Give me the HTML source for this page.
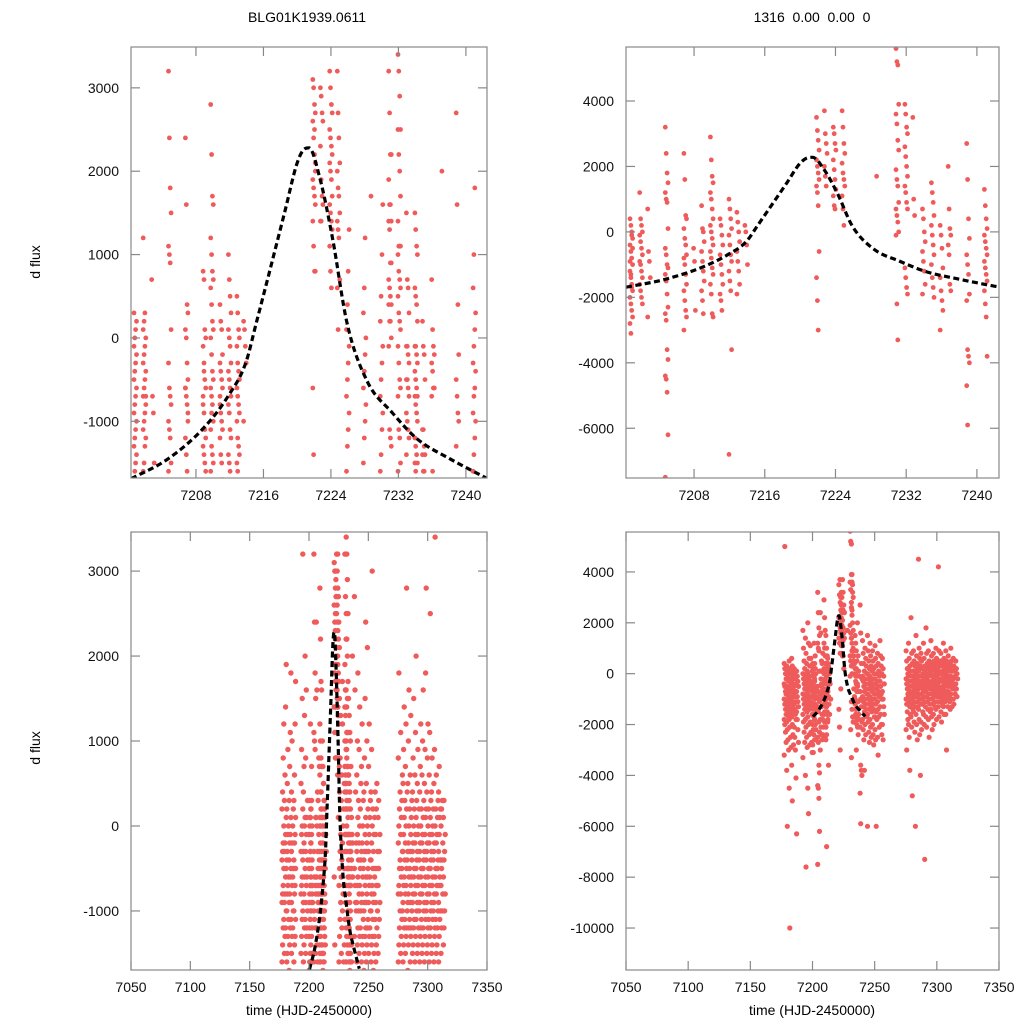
<!DOCTYPE html>
<html><head><meta charset="utf-8">
<style>
html,body{margin:0;padding:0;background:#fff;}
svg{display:block;font-family:"Liberation Sans",Arial,sans-serif;}
</style></head>
<body>
<svg id="chart" width="1024" height="1024" viewBox="0 0 1024 1024" xmlns="http://www.w3.org/2000/svg">
<rect x="0" y="0" width="1024" height="1024" fill="#fff"/>
<text x="307" y="22" font-size="14" text-anchor="middle">BLG01K1939.0611</text>
<text x="812" y="22" font-size="14" text-anchor="middle" xml:space="preserve">1316  0.00  0.00  0</text>
<text transform="translate(40,262) rotate(-90)" font-size="14" text-anchor="middle">d flux</text>
<text transform="translate(40,748) rotate(-90)" font-size="14" text-anchor="middle">d flux</text>
<text x="309" y="1015" font-size="14" text-anchor="middle">time (HJD-2450000)</text>
<text x="812" y="1015" font-size="14" text-anchor="middle">time (HJD-2450000)</text>
</svg>
<script>
// ---- data (fluxes in units of 100) ----
const leftTimes = [7178,7180,7182,7184,7186,7188,7194,7196,7198,
 7200.8,7201.9,7202.9,7204.9,7206.9,7209.0,7209.9,7211.0,7212.0,7213.0,7213.8,
 7222.0,7222.9,7224.0,7224.9,7226,7228,7228.9,7230,7231.0,7232.1,7233.1,7234.1,7235.0,7236.1,7237.3,7239.0,
 7241,7243,7245,7247,7249,7251,7253,7255,7257,7259,
 7276,7278,7280,7282,7284,7286,7288,7290,7292,7294,7296,7298,7300,7302,7304,7306,7308,7310,7312,7314];
const leftFlux = [
 [-16,-14,-12,-11,-9,-8,-7,-5,-4,-3,-2,0,2,4,8,12],
 [-15,-13,-12,-10,-9,-8,-6,-5,-3,-2,-1,1,3,6,14,19],
 [-16,-15,-13,-11,-10,-8,-7,-6,-4,-3,-1,0,2,5,9],
 [-17,-14,-12,-11,-9,-8,-6,-5,-4,-2,-1,1,3,7,11,18],
 [-15,-13,-12,-10,-9,-7,-6,-5,-3,-2,0,2,4,10],
 [-16,-14,-13,-11,-10,-8,-7,-5,-4,-2,-1,1,3,6,12,17],
 [-15,-13,-11,-10,-8,-7,-6,-4,-3,-1,0,2,5,9,15,32],
 [-16,-14,-12,-11,-9,-8,-6,-5,-3,-2,0,1,4,7,13,20],
 [-15,-13,-12,-10,-9,-7,-6,-4,-3,-1,1,3,8,16],
 [-17,-16,-15,-14,-13,-12,-11,-10,-9,-8,-7,-6,-5,-4,-3,-2,-1,0,1,2,3],
 [-16,-15,-13,-12,-11,-10,-9,-8,-7,-6,-5,-4,-3,-2,-1,0,1,2,3,-7,12],
 [7,-7,-9,-15],
 [32,24,18,15,11,10,9,1,-3,-6,-7,-8,-10,-11,-12,-15,-16],
 [24,16,4,3,1,0,-3,-5,-6,-7,-8,-10,-12,-14,-16,-9,-6],
 [8,7,1,0,-1,-4,-5,-6,-8,-9,-11,-12,-13,-14,-15,-16,-7,-3],
 [28,22,17,16,12,10,8,7,6,4,2,1,0,-2,-4,-5,-6,-7,-8,-10,-11,-13,-14,-15,-16,-9],
 [4,2,1,-2,-3,-4,-5,-6,-8,-9,-10,-11,-12,-14,-15,-17,-7],
 [10,7,5,3,1,0,-1,-3,-4,-5,-6,-7,-8,-9,-11,-12,-14,-15,-16],
 [5,3,1,0,-1,-3,-4,-5,-6,-7,-8,-9,-10,-12,-13,-14,-15,-16],
 [2,1,-1,-3,-10],
 [31,30,28,27,26,24,22,20,19,18,17,16,14,11,8,8,-6,-14,25,21],
 [30,29,27,26,23,19,17,16,14,14],
 [32,30,28,27,25,24,23,22,21,20,19,17,16,15,14,13,11,8,6],
 [32,27,24,21,20,18,17,15,14,13,12,7,6,1],
 [-16,-13,-11,-9,-7,-5,-3,-1,1,4,8,13],
 [-15,-12,-10,-8,-6,-4,-2,0,3,6,12],
 [17],
 [-16,-14,-11,-9,-7,-5,-3,-1,2,5,10,16],
 [32,27,22,22,19,16,16,14,14,13,9,9,7,6,5,4,4,2,2,0,-1,-11,-12,-13],
 [34,32,29,25,25,22,20,17,14,11,11,11,10,8,7,6,5,3,2,1,-1,-3,-5,-6,-7,-11,-12,-15,-16],
 [15,7,6,3,-1,-1,-2,-3,-5,-5,-6,-7,-9,-10,-11,-12,-14],
 [15,13,11,10,6,5,4,2,-1,-1,-2,-3,-4,-5,-6,-7,-7,-8,-9,-10,-12,-13,-14,-15,-15,-16,-17],
 [2,-1,-2,-5,-11,-11,-13,-14,-14,-16,-16],
 [7,1,-1,-2,-3,-4,-6,-6,-7,-16],
 [20],
 [27,16,4,-2,-5,-7,-9,-10,-13],
 [-16,-14,-12,-10,-9,-7,-6,-4,-3,-1,1,3,6,10,18],
 [-15,-13,-12,-10,-8,-7,-5,-4,-2,0,2,5,9,14],
 [-16,-14,-13,-11,-9,-8,-6,-5,-3,-2,0,3,7,12],
 [-17,-15,-13,-12,-10,-9,-7,-6,-4,-3,-1,1,4,8,15,24],
 [-16,-14,-12,-11,-9,-8,-6,-5,-3,-2,0,2,5,10,21],
 [-15,-13,-12,-10,-9,-7,-6,-4,-3,-1,1,3,7,12],
 [-16,-14,-13,-11,-10,-8,-7,-5,-4,-2,0,2,4,9,30],
 [-17,-15,-13,-11,-9,-8,-6,-5,-3,-1,1,4],
 [-16,-14,-12,-10,-9,-7,-5,-3,-1,2,5],
 [-15,-13,-11,-9,-7,-5,-3,-1,1,3],
 [-16,-14,-12,-10,-8,-7,-5,-4,-2,0,2,4,8,18],
 [-15,-13,-11,-10,-8,-6,-5,-3,-1,1,3,6,11],
 [-16,-14,-12,-11,-9,-7,-6,-4,-3,-1,1,3,5,9,14],
 [-15,-13,-12,-10,-8,-7,-5,-4,-2,0,2,4,7,12,28],
 [-17,-14,-12,-11,-9,-8,-6,-5,-3,-2,0,2,5,10,16],
 [-16,-13,-12,-10,-9,-7,-6,-4,-3,-1,1,3,6,13],
 [-15,-14,-12,-11,-9,-8,-6,-5,-3,-2,0,2,4,8,15],
 [-16,-13,-11,-10,-8,-7,-5,-4,-2,-1,1,3,6,11,20],
 [-15,-14,-12,-10,-9,-7,-6,-4,-3,-1,0,2,5,9],
 [-16,-13,-12,-11,-9,-8,-6,-5,-3,-2,0,2,4,7,12],
 [-15,-14,-12,-10,-8,-7,-5,-4,-2,-1,1,3,6,10,16],
 [-16,-13,-11,-10,-9,-7,-6,-4,-3,-1,1,2,5,9,18,28],
 [-15,-14,-12,-11,-9,-8,-6,-5,-3,-2,0,2,4,8,12],
 [-16,-13,-12,-10,-8,-7,-5,-4,-2,-1,1,3,6,11,25],
 [-15,-14,-11,-10,-9,-7,-6,-4,-3,-1,0,2,4,8],
 [-16,-13,-12,-11,-9,-8,-6,-5,-3,-2,0,2,5,9,34],
 [-15,-14,-12,-10,-8,-7,-5,-4,-2,-1,1,3,6],
 [-16,-13,-11,-10,-9,-7,-6,-4,-3,-1,1,2,4,7],
 [-15,-12,-10,-8,-7,-5,-4,-2,0,2,3],
 [-14,-12,-10,-8,-6,-4,-3,-1,1,3]
];
const rightTimes = [7178,7180,7182,7184,7186,7188,7193,7195,7197,7199,
 7200.9,7202.0,7202.9,7204.9,7207.0,7208.1,7209.0,7210.0,7211.1,7212.1,7213.0,7213.9,
 7222.0,7222.9,7223.9,7224.9,7228.8,7231.0,7232.0,7232.9,7234.0,7235.0,7236.0,7236.9,7239.0,
 7241,7243,7245,7247,7249,7251,7253,7255,7257,
 7276,7278,7280,7282,7284,7286,7288,7290,7292,7294,7296,7298,7300,7302,7304,7306,7308,7310,7312,7314,7316];
const rightFlux = [
 [4,2,0,-2,-4,-5,-7,-8,-10,-12,-14,-16,-18,-20,-23,-27,-32,50],
 [3,1,-1,-3,-5,-6,-8,-9,-11,-13,-15,-17,-19,-22,-26,-30,-38,-60],
 [5,2,0,-2,-3,-5,-7,-9,-10,-12,-14,-16,-18,-21,-25,-29,-45,-100],
 [6,3,1,-1,-3,-4,-6,-8,-10,-11,-13,-15,-17,-20,-24,-28,-36,-50],
 [2,0,-2,-4,-5,-7,-9,-11,-12,-14,-16,-18,-21,-25,-30,-41],
 [1,-1,-3,-5,-7,-9,-11,-13,-15,-18,-22,-27,-63],
 [17,10,5,2,0,-2,-4,-6,-8,-10,-12,-14,-16,-19,-23,-27,-33],
 [14,8,4,1,-1,-3,-5,-7,-9,-11,-13,-15,-18,-21,-25,-29,-40,-76],
 [20,12,6,3,0,-2,-4,-6,-8,-10,-12,-14,-17,-20,-24,-28,-45,-55],
 [11,6,3,1,-1,-3,-5,-7,-9,-11,-13,-16,-19,-23,-27,-31],
 [4,2,0,-2,-4,-6,-8,-10,-12,-14,-16,-18,-20,-22,-24,-26,-28,-31,-1,-5,-9,-13,-17],
 [12,4,2,0,-1,-3,-5,-7,-9,-10,-12,-14,-16,-18,-20,-22],
 [7,-6,-9,-14,-26],
 [32,24,18,15,12,10,9,1,-5,-7,-10,-11,-13,-15,-19,-23,-25,-27,-36,-39,-44,-45,-49,-62,-75],
 [24,16,5,4,1,-2,-4,-7,-8,-10,-13,-16,-18,-21,-24,-26,-30],
 [-5,-9,-24],
 [8,1,0,-3,-6,-9,-12,-15,-18,-21,-25],
 [29,22,17,15,12,10,7,4,2,0,-2,-4,-6,-8,-11,-13,-16,-19,-25,-26],
 [4,2,-1,-4,-7,-10,-13,-16,-19,-21,-24],
 [10,7,4,1,-1,-4,-7,-9,-12,-15,-18,-36,-68],
 [6,3,0,-3,-6,-9,-12,-16,-19],
 [2,0,-4,-10],
 [35,31,28,25,22,20,18,16,14,12,8,-6,-14,-21,-30],
 [37,30,27,24,20,17,14],
 [32,30,27,25,22,19,16,13,11,8,7],
 [37,32,27,24,21,18,16,14,11,7,2],
 [17],
 [56,52,51,39,36,33,28,25,19,16,14,9,7,5,3,0,-1,-22,-33],
 [39,36,32,30,26,23,20,17,14,12,9,7,-11,-14,-17,-19],
 [35,10,5],
 [7,4,0,-3,-6,-9,-12,-16,-19],
 [15,12,9,5,2,-1,-4,-7,-10,-14,-17,-20],
 [2,-1,-5,-11,-14,-18,-21,-24,-30],
 [20,7,1,-1,-4,-7,-16,-18],
 [27,16,4,-2,-7,-10,-13,-19,-21,-36,-38,-40,-47,-59],
 [13,8,4,1,-1,-3,-5,-7,-9,-11,-13,-15,-18,-22,-26,-38],
 [10,6,3,0,-2,-4,-6,-8,-10,-12,-14,-17,-20,-24],
 [15,9,5,2,0,-2,-4,-6,-8,-10,-12,-14,-16,-19,-23,-27,-60],
 [12,7,3,1,-1,-3,-5,-7,-9,-11,-13,-15,-18,-21,-25],
 [9,5,2,0,-2,-4,-6,-8,-10,-12,-14,-17,-20,-24,-28],
 [11,6,3,0,-2,-4,-6,-8,-10,-12,-15,-18,-22,-26,-60],
 [8,4,1,-1,-3,-5,-7,-9,-11,-14,-17,-21,-25,-32],
 [13,7,3,0,-3,-5,-8,-10,-13,-16,-20,-24],
 [6,2,-1,-4,-7,-10,-13,-16,-20,-26],
 [9,5,2,0,-2,-4,-6,-8,-10,-12,-15,-18,-22,-30],
 [12,6,3,1,-1,-3,-5,-7,-9,-11,-13,-16,-20,-25,-38],
 [22,8,4,1,-1,-3,-5,-7,-8,-10,-12,-14,-17,-21,-48],
 [9,5,3,1,-1,-2,-4,-6,-8,-9,-11,-13,-15,-19,-23,-60],
 [15,7,4,2,0,-2,-3,-5,-7,-9,-11,-13,-16,-20,-26],
 [45,10,6,3,1,-1,-3,-4,-6,-8,-10,-12,-14,-18,-24,-40],
 [8,5,2,0,-1,-3,-5,-6,-8,-10,-12,-15,-19,-22],
 [12,6,3,1,-1,-2,-4,-6,-7,-9,-11,-13,-16,-20,-73],
 [18,8,4,2,0,-2,-3,-5,-7,-9,-11,-14,-17,-21],
 [9,5,3,1,-1,-3,-4,-6,-8,-10,-12,-15,-18,-25],
 [13,7,4,2,0,-1,-3,-5,-6,-8,-10,-12,-14,-17,-22],
 [8,5,3,1,-1,-2,-4,-5,-7,-9,-11,-13,-16,-20],
 [10,6,4,2,0,-1,-3,-4,-6,-8,-9,-11,-14,-18],
 [42,9,5,3,1,0,-2,-3,-5,-7,-9,-11,-13,-17],
 [8,5,3,1,0,-2,-3,-5,-6,-8,-10,-12,-15,-19],
 [12,6,4,2,0,-1,-3,-4,-6,-7,-9,-11,-13,-16],
 [9,5,3,1,0,-2,-3,-5,-7,-8,-10,-13,-16,-30],
 [7,4,2,1,-1,-2,-4,-5,-7,-9,-11,-14],
 [10,5,3,1,-1,-3,-4,-6,-8,-10,-13],
 [6,3,1,-1,-2,-4,-6,-8,-10,-12],
 [5,2,0,-2,-4,-6,-9]
];
const fluxUnit = 100;
// model curve
const curveT = [7200.3,7204.7,7209.1,7211.8,7213.9,7215.2,7216.5,7218.5,7220.0,7220.9,7221.4,7222.7,7224.2,7225.9,7228.3,7231.3,7234.2,7238.1,7242.4];
const curveF = [-1690,-1450,-1060,-700,-300,200,710,1500,2100,2270,2280,1910,1190,180,-520,-900,-1210,-1450,-1680];
// tick values
const topXTicks = [7208,7216,7224,7232,7240];
const bottomXTicks = [7050,7100,7150,7200,7250,7300,7350];
const leftYTicks = [-1000,0,1000,2000,3000];
const topRightYTicks = [-6000,-4000,-2000,0,2000,4000];
const bottomRightYTicks = [-10000,-8000,-6000,-4000,-2000,0,2000,4000];

const NS = 'http://www.w3.org/2000/svg';
const svg = document.getElementById('chart');
function mk(tag, attrs, parent){ const e=document.createElementNS(NS,tag); for(const k in attrs) e.setAttribute(k,attrs[k]); (parent||svg).appendChild(e); return e; }

const panels = [
 {id:'top-left', x0:131,x1:487,y0:47,y1:478, tMin:7200.3,tMax:7242.5, fMin:-1680,fMax:3490, times:leftTimes, flux:leftFlux, xt:topXTicks, yt:leftYTicks, spread:0.3, r:2.4},
 {id:'top-right', x0:626,x1:999,y0:47,y1:478, tMin:7200.3,tMax:7242.5, fMin:-7520,fMax:5650, times:rightTimes, flux:rightFlux, xt:topXTicks, yt:topRightYTicks, spread:0.3, r:2.4},
 {id:'bottom-left', x0:131,x1:487,y0:532,y1:970, tMin:7050,tMax:7350, fMin:-1695,fMax:3460, times:leftTimes, flux:leftFlux, xt:bottomXTicks, yt:leftYTicks, spread:1.5, r:2.7},
 {id:'bottom-right', x0:626,x1:999,y0:532,y1:970, tMin:7050,tMax:7350, fMin:-11650,fMax:5570, times:rightTimes, flux:rightFlux, xt:bottomXTicks, yt:bottomRightYTicks, spread:1.5, r:2.6}
];

function monotonePath(P){
  const n=P.length, dx=[], m=[], s=[];
  for(let i=0;i<n-1;i++){ dx[i]=P[i+1][0]-P[i][0]; s[i]=(P[i+1][1]-P[i][1])/dx[i]; }
  m[0]=s[0]; m[n-1]=s[n-2];
  for(let i=1;i<n-1;i++){ m[i]= (s[i-1]*s[i]<=0)?0:(s[i-1]+s[i])/2; }
  for(let i=0;i<n-1;i++){
    if(s[i]===0){m[i]=0;m[i+1]=0;continue;}
    const a=m[i]/s[i], b=m[i+1]/s[i], h=a*a+b*b;
    if(h>9){const t=3/Math.sqrt(h); m[i]=t*a*s[i]; m[i+1]=t*b*s[i];}
  }
  let d='M'+P[0][0].toFixed(1)+','+P[0][1].toFixed(1);
  for(let i=0;i<n-1;i++){
    const h=dx[i]/3;
    d+=' C'+(P[i][0]+h).toFixed(1)+','+(P[i][1]+m[i]*h).toFixed(1)+' '+(P[i+1][0]-h).toFixed(1)+','+(P[i+1][1]-m[i+1]*h).toFixed(1)+' '+P[i+1][0].toFixed(1)+','+P[i+1][1].toFixed(1);
  }
  return d;
}

panels.forEach(p=>{
  const sx = t => p.x0 + (t-p.tMin)/(p.tMax-p.tMin)*(p.x1-p.x0);
  const sy = f => p.y1 - (f-p.fMin)/(p.fMax-p.fMin)*(p.y1-p.y0);
  const g = mk('g',{});
  
  
  const cp = mk('clipPath',{id:'clip-'+p.id}, g);
  mk('rect',{x:p.x0,y:p.y0,width:p.x1-p.x0,height:p.y1-p.y0}, cp);
  const pts = mk('g',{'clip-path':'url(#clip-'+p.id+')', fill:'#ef5b5b'}, g);
  
  
  p.times.forEach((t,i)=>{
    p.flux[i].forEach((v,j)=>{
      const off = ((j%4)/3 - 0.5) * p.spread; // visual spread within an observing night
      const c = mk('circle',{cx:sx(t+off).toFixed(1), cy:sy(v*fluxUnit).toFixed(1), r:p.r}, pts);
      
      
    });
  });
  const P = curveT.map((t,i)=>[sx(t), sy(curveF[i])]);
  const cg = mk('g',{'clip-path':'url(#clip-'+p.id+')'}, g);
  const path = mk('path',{d:monotonePath(P), fill:'none', stroke:'#000', 'stroke-width':3.2, 'stroke-dasharray':'6 3.5'}, cg);
  
  
  const fr = mk('rect',{x:p.x0,y:p.y0,width:p.x1-p.x0,height:p.y1-p.y0,fill:'none',stroke:'#888','stroke-width':1.2}, g);
  
  
  p.xt.forEach(t=>{
    const x = sx(t);
    mk('line',{x1:x,x2:x,y1:p.y1,y2:p.y1-9,stroke:'#888','stroke-width':1.2}, g);
    mk('line',{x1:x,x2:x,y1:p.y0,y2:p.y0+9,stroke:'#888','stroke-width':1.2}, g);
    const tx = mk('text',{x:x,y:p.y1+22,'font-size':14,'text-anchor':'middle',fill:'#111'}, g);
    tx.textContent = t;
    
    
  });
  p.yt.forEach(f=>{
    const y = sy(f);
    mk('line',{x1:p.x0,x2:p.x0+9,y1:y,y2:y,stroke:'#888','stroke-width':1.2}, g);
    mk('line',{x1:p.x1,x2:p.x1-9,y1:y,y2:y,stroke:'#888','stroke-width':1.2}, g);
    const ty = mk('text',{x:p.x0-12,y:y+5,'font-size':14,'text-anchor':'end',fill:'#111'}, g);
    ty.textContent = f;
    
    
  });
});
</script>
</body></html>
